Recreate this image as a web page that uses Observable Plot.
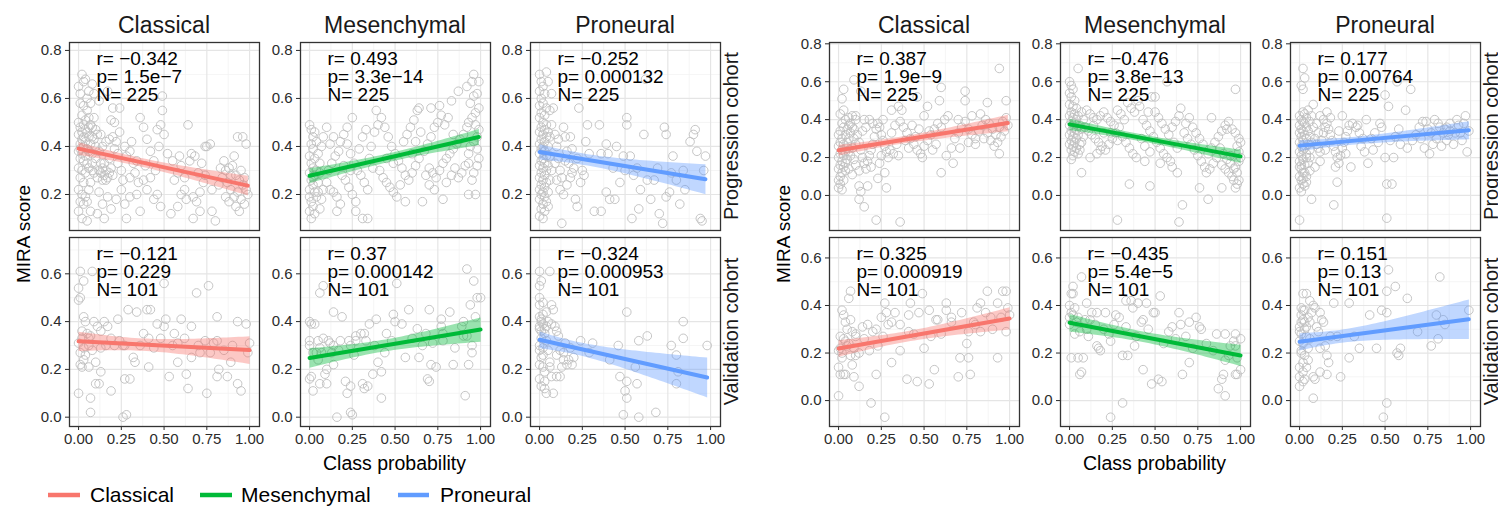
<!DOCTYPE html>
<html><head><meta charset="utf-8">
<script src="https://cdn.jsdelivr.net/npm/d3@7"></script>
<script src="https://cdn.jsdelivr.net/npm/@observablehq/plot@0.6"></script>
<style>
body{margin:0;background:#fff;}
#fig{position:relative;width:1498px;height:506px;overflow:hidden;background:#fff;font-family:"Liberation Sans",Arial,sans-serif;}
#fig svg{position:absolute;}
</style></head>
<body><div id="fig"></div>
<script>
// ---------- data (values in hundredths: x,y,x,y,...) ----------
const COLS = ["Classical","Mesenchymal","Proneural"];
const ROWS = ["Progression cohort","Validation cohort"];
const COLORS = ["#F8766D","#00BA38","#619CFF"];
const X_TICKS = [0,0.25,0.5,0.75,1];
const X_MINOR = [0.125,0.375,0.625,0.875];

const A_STATS = [
  [["r= −0.342","p= 1.5e−7","N= 225"],["r= 0.493","p= 3.3e−14","N= 225"],["r= −0.252","p= 0.000132","N= 225"]],
  [["r= −0.121","p= 0.229","N= 101"],["r= 0.37","p= 0.000142","N= 101"],["r= −0.324","p= 0.000953","N= 101"]]
];
const B_STATS = [
  [["r= 0.387","p= 1.9e−9","N= 225"],["r= −0.476","p= 3.8e−13","N= 225"],["r= 0.177","p= 0.00764","N= 225"]],
  [["r= 0.325","p= 0.000919","N= 101"],["r= −0.435","p= 5.4e−5","N= 101"],["r= 0.151","p= 0.13","N= 101"]]
];

const A_prog_clas = [0,65,1,62,2,70,3,67,4,68,1,58,3,57,5,55,2,53,0,50,1,48,3,49,4,47,2,46,5,46,6,48,7,49,8,48,0,45,2,43,4,42,6,44,1,41,3,40,5,39,7,41,9,43,0,38,2,37,4,36,6,38,8,37,1,35,3,34,5,33,0,31,2,30,4,29,6,31,8,30,1,27,3,25,0,22,2,20,4,19,1,17,3,16,5,17,0,13,2,10,5,9,7,13,6,22,7,25,9,29,8,33,10,35,10,40,11,45,9,52,7,58,6,63,8,66,5,60,9,62,4,51,6,52,3,44,1,39,10,47,8,44,
12,30,13,29,14,31,15,28,16,30,17,27,14,26,18,29,13,33,11,27,15,33,16,26,19,31,20,28,12,38,14,40,16,42,18,43,20,44,22,42,13,45,24,46,21,39,23,37,12,21,14,16,17,19,19,14,11,12,15,10,22,18,25,22,20,56,24,56,21,50,17,63,12,59,19,51,23,33,25,30,18,35,
27,40,28,36,30,38,32,33,34,34,36,52,38,48,40,43,42,38,44,34,46,47,48,49,49,61,49,55,50,45,47,40,45,30,42,27,38,26,35,25,33,29,30,27,28,10,27,16,30,19,34,20,36,13,40,22,44,18,46,20,48,15,26,26,31,42,39,32,
52,37,55,34,58,29,60,32,62,27,64,49,66,37,65,34,68,36,70,29,72,33,74,28,56,26,60,20,63,18,67,19,69,17,71,21,73,25,74,40,75,40,77,41,54,12,58,15,62,22,67,10,71,13,59,36,
78,13,80,9,78,22,82,24,84,27,86,30,88,31,90,32,92,28,94,26,96,24,98,22,87,25,89,22,91,19,93,21,95,18,97,16,99,20,86,19,88,17,92,15,94,13,85,34,91,36,93,44,96,44,98,41,83,31,95,30,97,27,89,28];

const A_prog_mes = [0,49,1,47,2,44,3,46,1,41,4,42,2,39,0,36,3,35,5,37,1,33,2,31,4,30,0,29,3,28,6,29,1,26,2,24,5,25,0,22,3,21,4,19,1,17,2,15,0,13,3,12,1,10,6,14,7,18,5,21,8,22,6,33,7,40,8,44,0,19,2,27,
10,25,12,22,14,21,16,19,11,30,13,33,15,36,17,38,18,42,20,45,22,41,24,37,26,33,28,30,30,28,32,25,34,22,19,28,21,26,23,23,25,20,27,17,16,13,27,13,31,10,34,10,29,39,31,44,33,47,22,48,25,52,12,41,14,44,10,48,20,32,24,30,35,35,18,16,
36,40,38,46,39,55,40,49,42,52,44,48,46,44,48,40,50,37,52,34,54,31,56,28,58,26,60,29,62,32,64,35,41,30,43,27,45,25,47,23,49,21,51,19,53,24,55,42,57,45,59,48,61,51,63,55,64,56,56,17,45,35,49,33,37,31,60,37,62,42,65,46,
66,17,68,28,70,31,72,29,74,27,76,30,78,33,80,35,82,37,84,39,86,41,88,43,90,45,67,38,69,41,71,44,73,48,75,50,77,53,79,49,81,52,83,59,87,63,71,56,76,57,78,18,80,25,83,28,85,31,87,27,89,29,91,32,70,24,73,22,84,45,
93,20,97,20,95,26,96,29,98,32,99,35,93,37,94,40,96,42,98,44,99,47,92,48,93,50,95,52,97,54,99,56,94,58,96,61,98,62,92,65,95,67,99,67,96,70,97,49,98,39,93,33];

const A_prog_pro = [0,70,1,67,2,65,0,63,3,62,1,60,2,58,0,57,4,56,1,54,3,53,0,52,2,50,4,49,1,48,3,47,0,46,5,46,2,45,4,44,1,43,3,42,0,41,2,40,5,40,1,39,3,38,0,37,4,36,2,35,1,34,3,33,0,32,5,32,2,31,4,30,1,29,3,28,0,27,2,26,4,25,1,24,3,23,0,22,2,21,5,21,1,20,3,19,0,18,4,17,2,16,1,14,3,13,0,11,2,10,6,36,6,44,7,30,6,26,5,15,7,49,6,55,7,62,5,67,4,71,
8,56,9,45,10,40,11,35,12,30,13,27,14,48,15,44,16,38,17,33,18,44,19,29,10,26,12,22,14,20,16,24,18,27,20,31,22,35,24,25,26,28,28,49,23,56,27,42,29,37,13,8,21,18,25,30,11,43,15,34,19,39,22,15,9,33,
32,13,36,13,35,49,39,41,40,37,36,37,41,18,44,18,39,21,45,40,49,36,50,30,51,52,51,49,53,36,55,28,57,31,54,10,47,25,43,31,59,22,58,14,
61,45,62,68,63,26,65,18,67,26,69,31,72,8,73,48,74,45,74,19,76,21,77,29,80,26,82,16,85,22,88,42,90,45,91,47,92,38,94,10,95,9,97,36,96,30,78,36,70,12,84,30];

const A_val_clas = [1,61,8,61,3,57,0,54,1,50,0,49,3,42,9,40,11,38,15,40,17,38,23,41,13,36,19,33,24,32,29,45,34,44,40,45,42,45,50,56,51,41,50,38,46,39,60,41,66,38,69,52,76,55,81,42,93,40,98,39,100,31,99,27,48,33,56,35,58,31,41,33,36,30,32,25,33,23,41,21,26,30,27,30,6,30,2,33,6,33,7,34,0,31,3,29,4,26,1,22,6,21,10,23,13,19,10,14,12,14,19,11,27,16,30,16,53,17,63,18,64,12,75,10,58,23,66,25,71,27,77,27,79,31,81,32,74,32,82,20,81,17,87,17,89,23,93,14,95,11,0,10,7,8,7,2,26,0,28,1,13,29,16,30,21,30,
2,36,4,40,5,35,1,27,3,24,8,28,2,21,55,30,70,30,85,28,62,33,44,29,38,35,90,30];

const A_val_mes = [8,55,6,52,51,56,92,62,96,57,94,47,98,50,100,50,14,44,19,42,35,39,39,41,30,35,32,35,27,34,23,32,18,32,11,32,8,33,0,40,1,39,3,39,0,32,0,30,2,27,4,27,7,27,12,31,13,27,17,28,24,30,26,26,1,17,0,16,2,11,6,14,9,18,10,14,10,20,14,22,21,15,22,10,31,14,32,12,34,13,37,18,40,23,42,19,42,8,45,35,49,43,54,39,50,40,48,32,56,25,58,45,64,25,70,45,68,35,72,31,71,22,74,21,69,16,70,15,77,41,77,38,78,35,78,32,85,29,84,22,89,38,91,9,93,22,95,27,90,40,90,34,92,34,95,30,24,13,16,0,24,2,25,1,5,32,6,29,14,30,27,32,33,32,38,30,
60,33,63,37,66,30,82,44,97,42,44,27,5,24];

const A_val_pro = [6,61,0,61,1,57,0,55,0,50,0,47,2,48,7,47,8,45,0,42,1,41,2,39,0,37,5,40,7,39,9,38,10,36,11,34,15,31,18,29,20,25,19,22,14,24,10,26,13,21,10,17,12,17,7,17,6,23,2,26,0,30,1,25,0,22,2,21,0,16,3,15,3,12,4,10,8,10,6,21,16,22,17,24,1,33,3,35,4,44,2,29,5,28,0,28,4,32,3,19,1,13,12,28,14,27,
24,32,31,31,29,27,41,24,46,30,51,44,58,32,63,34,56,21,47,17,51,15,50,11,51,8,49,1,58,0,68,2,57,14,77,30,80,26,81,19,80,14,84,40,84,33,98,30,
1,40,2,43,0,38,3,37,1,36,4,38];

const B_prog_clas = [0,4,1,6,2,3,0,8,1,10,3,8,2,12,0,14,1,16,3,15,4,13,2,18,0,20,1,22,3,21,5,19,4,17,2,24,0,26,1,28,3,27,5,25,6,23,2,30,0,32,1,34,4,32,6,30,3,36,5,35,7,33,2,38,4,40,6,41,8,42,1,43,3,45,7,38,8,36,9,35,9,30,10,27,8,25,7,21,9,19,10,16,6,14,8,11,5,28,4,23,6,37,10,40,10,42,2,51,3,56,9,61,13,55,12,5,13,2,12,-2,15,-6,
11,32,12,28,13,24,14,20,15,17,16,14,17,18,18,21,19,24,20,27,21,31,22,35,23,38,24,36,25,32,26,29,27,26,28,23,29,20,30,24,14,34,16,36,18,40,20,38,26,40,22,-13,17,5,23,9,27,12,28,4,31,33,33,37,32,22,34,27,12,13,19,15,24,17,15,40,25,21,35,21,
36,-14,35,47,37,45,31,45,36,39,38,36,40,33,42,30,44,27,46,24,48,22,50,26,52,29,54,32,56,35,58,38,60,36,62,40,64,42,46,52,50,42,52,47,59,50,60,57,45,31,41,25,43,37,49,20,55,24,57,27,63,21,60,12,53,34,47,35,39,29,
67,17,66,25,68,30,70,33,72,36,74,39,76,35,78,32,80,30,82,34,84,37,86,40,88,38,90,35,92,32,94,36,96,39,98,41,99,37,97,34,95,31,93,28,91,26,89,29,87,33,85,30,74,55,74,50,87,49,94,67,98,50,94,22,80,27,76,28,70,40,83,43,71,25,78,42];

const B_prog_mes = [0,60,1,58,2,56,0,54,1,52,3,50,0,48,2,47,4,46,1,44,3,43,0,42,5,42,2,41,4,40,1,39,3,38,0,37,6,37,2,36,4,35,1,34,3,33,0,32,5,32,2,31,4,30,1,29,3,28,0,27,6,27,2,26,4,25,1,24,3,23,5,22,2,21,1,19,5,67,7,35,8,31,7,28,6,24,8,40,7,44,
10,45,12,43,14,41,16,40,18,42,20,44,22,41,24,39,26,37,28,45,30,43,32,40,34,49,36,46,38,44,9,36,11,34,13,32,15,30,17,28,19,26,21,24,23,27,25,30,27,33,29,36,31,31,33,28,35,25,37,22,39,20,12,20,16,22,20,33,24,33,28,29,7,12,35,6,28,-13,18,24,14,37,
40,50,41,47,43,40,45,37,47,34,49,31,51,28,53,25,55,22,57,20,59,18,48,52,50,52,57,60,46,44,52,41,54,38,56,35,58,32,60,36,62,39,64,42,65,46,44,26,47,23,42,30,61,28,63,25,47,5,63,12,60,15,53,17,44,18,50,44,
66,-5,64,-14,67,33,69,30,71,27,73,24,75,21,77,18,79,15,81,22,83,25,85,28,87,31,89,34,91,37,93,39,95,35,97,33,99,30,68,38,70,41,72,36,76,4,81,-2,89,4,97,4,99,8,98,12,96,14,94,17,92,19,90,22,88,25,86,20,84,17,82,14,80,12,78,27,76,30,74,33,83,41,92,35,97,56,99,23,98,26,100,28,
95,10,97,15,99,18,96,8,93,12,100,20,98,6,91,14,89,16,94,21];

const B_prog_pro = [0,-13,1,2,0,4,2,6,1,8,3,5,0,10,2,12,4,10,1,14,3,16,0,18,2,19,5,17,1,21,4,22,0,23,2,24,6,24,3,25,1,26,5,27,0,28,2,29,4,30,1,31,6,31,3,32,0,33,2,34,5,34,1,35,4,36,0,37,3,38,2,39,6,39,1,40,4,41,0,42,3,43,2,44,5,45,1,16,4,20,0,15,3,12,2,9,4,7,2,56,1,58,2,67,3,62,7,-2,6,13,6,20,7,28,8,36,8,48,7,42,
9,30,10,27,11,25,12,23,13,29,14,33,15,36,16,38,17,35,18,32,19,29,20,26,21,23,22,20,23,17,24,21,25,25,26,28,27,31,28,34,29,37,10,38,12,42,14,40,18,41,21,15,22,7,20,-5,25,42,27,22,30,15,9,15,12,18,15,24,23,34,16,44,11,33,
31,38,33,36,34,37,35,33,37,30,38,23,40,17,42,30,44,33,46,28,48,36,50,53,50,20,51,6,51,-12,54,6,55,20,52,47,53,29,56,31,57,60,58,35,59,27,43,24,47,38,39,40,36,26,
62,45,63,25,65,56,66,29,68,32,70,36,72,39,73,25,74,39,75,35,77,33,78,27,79,40,80,30,82,36,84,33,85,35,86,29,88,38,90,27,91,33,93,37,95,29,97,42,98,23,99,34,87,32,83,26,76,22,71,30,
92,40,96,38,88,34,94,33,86,36,81,38];

const B_val_clas = [1,27,2,38,3,36,4,33,7,46,6,43,7,34,8,29,10,28,10,27,3,26,5,23,1,22,0,21,2,20,7,19,10,19,12,20,2,18,8,15,0,14,1,11,3,11,4,11,9,10,12,6,0,2,19,-1,27,-7,17,32,22,30,20,29,23,23,25,35,27,41,28,37,29,32,31,33,33,37,36,21,31,16,22,11,40,9,46,8,53,7,47,37,49,45,53,38,42,41,41,36,36,32,41,29,57,34,58,34,60,28,63,38,63,41,66,35,50,22,56,13,72,37,71,18,70,10,75,24,76,18,77,11,76,29,79,33,81,39,83,41,83,29,80,32,87,46,89,35,93,41,93,18,96,46,98,46,98,29,99,39,100,36,95,35,
5,30,4,25,6,24,9,22,15,26,18,21,14,31,26,27,44,28,54,27,66,33,86,37,90,30];

const B_val_mes = [7,52,2,48,1,45,2,45,0,40,3,39,10,41,1,37,0,32,3,28,1,18,5,18,8,18,6,11,7,12,13,37,16,37,21,37,15,32,10,30,11,27,16,23,18,21,17,22,24,25,27,36,26,32,33,42,36,42,40,41,37,39,33,31,31,19,34,19,31,-1,24,-7,39,27,43,34,42,33,43,13,45,41,48,7,49,37,50,37,52,9,53,44,54,8,58,29,64,37,65,32,70,33,70,16,66,11,74,35,77,30,76,31,86,28,91,28,97,28,96,25,100,26,97,23,90,11,89,9,91,2,87,5,97,11,98,11,100,13,98,18,93,19,91,17,
5,35,4,33,2,36,0,35,6,29,9,34,12,34,20,30,23,28,29,35,46,30,55,24,60,31,62,26,68,27,72,22,80,24,84,21,94,23,38,23];

const B_val_pro = [2,45,4,45,1,39,3,38,5,35,2,34,6,33,0,31,3,30,1,28,4,27,0,25,2,24,5,22,1,21,3,19,2,16,0,14,4,14,2,12,0,10,3,9,0,6,8,1,8,40,9,39,7,37,12,37,13,34,12,22,15,23,12,12,16,11,9,9,8,10,16,19,18,27,20,41,24,10,29,41,29,18,32,27,41,36,45,22,48,38,51,37,51,46,51,-1,49,-7,52,55,56,48,59,22,58,19,63,43,69,29,77,23,80,36,81,26,82,52,84,34,85,32,99,38,
1,36,3,33,0,29,6,26,1,20,5,17,2,8,6,42,10,31,11,29,14,33,17,16,22,27,35,22,57,20,2,38,4,31,1,33];

// ---------- layout (style) ----------
const CHARTS = [
  {cols:[69,300,530], stats:A_STATS, data:[[A_prog_clas,A_prog_mes,A_prog_pro],[A_val_clas,A_val_mes,A_val_pro]],
   ydom:[[0.05,0.833],[-0.039,0.752]], yt:[[0.2,0.4,0.6,0.8],[0,0.2,0.4,0.6]], ymin:[[0.1,0.3,0.5,0.7],[0.1,0.3,0.5,0.7]],
   strip:731, ytitle:23, xtitle:394.5},
  {cols:[829,1060,1290], stats:B_STATS, data:[[B_prog_clas,B_prog_mes,B_prog_pro],[B_val_clas,B_val_mes,B_val_pro]],
   ydom:[[-0.185,0.807],[-0.109,0.686]], yt:[[0,0.2,0.4,0.6,0.8],[0,0.2,0.4,0.6]], ymin:[[-0.1,0.1,0.3,0.5,0.7],[-0.1,0.1,0.3,0.5]],
   strip:1491, ytitle:783, xtitle:1154.5}
];
const PW = 190, ROW_TOP = [42,237], ROW_H = [188,189];
const XDOM = [-0.053,1.058];
const FONT = "Liberation Sans, Arial, sans-serif";
const fig = document.getElementById("fig");

function toPts(arr){ const o=[]; for(let i=0;i<arr.length;i+=2) o.push({x:arr[i]/100,y:arr[i+1]/100}); return o; }

CHARTS.forEach(ch => {
  for (let r=0;r<2;r++) for (let c=0;c<3;c++) {
    const pts = toPts(ch.data[r][c]);
    const showX = r===1;
    const mL=40, mB=showX?30:0;
    const svg = Plot.plot({
      width: PW+mL, height: ROW_H[r]+mB,
      marginLeft:mL, marginRight:0, marginTop:0, marginBottom:mB,
      style:{fontFamily:FONT, fontSize:"15px", color:"#2b2b2b", background:"transparent", overflow:"visible"},
      x:{domain:XDOM, ticks:X_TICKS, tickFormat:d3.format(".2f"), tickSize:4, tickPadding:3, label:null, axis: showX ? "bottom" : null},
      y:{domain:ch.ydom[r], ticks:ch.yt[r], tickFormat:d3.format(".1f"), tickSize:4, tickPadding:4, label:null},
      marks:[
        Plot.gridX(X_MINOR,{stroke:"#f0f0f0",strokeOpacity:1,strokeWidth:0.7}),
        Plot.gridY(ch.ymin[r],{stroke:"#f0f0f0",strokeOpacity:1,strokeWidth:0.7}),
        Plot.gridX(X_TICKS,{stroke:"#e5e5e5",strokeOpacity:1,strokeWidth:1.2}),
        Plot.gridY(ch.yt[r],{stroke:"#e5e5e5",strokeOpacity:1,strokeWidth:1.2}),
        Plot.dot(pts,{x:"x",y:"y",r:4.3,stroke:"#bebebe",strokeWidth:0.9,fill:"none"}),
        Plot.linearRegressionY(pts,{x:"x",y:"y",stroke:COLORS[c],strokeWidth:4,fill:COLORS[c],fillOpacity:0.4,ci:0.95}),
        Plot.text([ch.stats[r][c].join("\n")],{text:d=>d,frameAnchor:"top-left",dx:27,dy:9.5,fontSize:19,lineHeight:0.96,fill:"#000",textAnchor:"start"}),
        Plot.frame({stroke:"#333",strokeWidth:1.3})
      ]
    });
    svg.style.left = (ch.cols[c]-mL)+"px";
    svg.style.top = ROW_TOP[r]+"px";
    fig.appendChild(svg);
  }
});

// ---------- titles, strips, axis titles, legend ----------
const ov = d3.select(fig).append("svg").attr("width",1498).attr("height",506)
  .style("left","0px").style("top","0px").style("pointer-events","none")
  .attr("font-family",FONT);
CHARTS.forEach(ch => {
  ch.cols.forEach((l,i)=> ov.append("text").attr("x",l+PW/2).attr("y",33).attr("text-anchor","middle")
     .attr("font-size",23).attr("fill","#1a1a1a").text(COLS[i]));
  ROWS.forEach((lab,r)=> {
    const cy = ROW_TOP[r]+ROW_H[r]/2;
    ov.append("text").attr("transform",`translate(${ch.strip},${cy}) rotate(-90)`).attr("text-anchor","middle")
      .attr("dominant-baseline","central").attr("font-size",20).attr("fill","#1a1a1a").text(lab);
  });
  ov.append("text").attr("transform",`translate(${ch.ytitle},234) rotate(-90)`).attr("text-anchor","middle")
    .attr("dominant-baseline","central").attr("font-size",19).attr("fill","#000").text("MIRA score");
  ov.append("text").attr("x",ch.xtitle).attr("y",470).attr("text-anchor","middle")
    .attr("font-size",19.5).attr("fill","#000").text("Class probability");
});
const LEG = [{x0:48,x1:80,tx:90},{x0:200,x1:232,tx:241},{x0:398,x1:429,tx:440}];
LEG.forEach((g,i)=>{
  ov.append("line").attr("x1",g.x0).attr("x2",g.x1).attr("y1",495).attr("y2",495)
    .attr("stroke",COLORS[i]).attr("stroke-width",4.5);
  ov.append("text").attr("x",g.tx).attr("y",502).attr("font-size",21).attr("fill","#000").text(COLS[i]);
});
</script>
</body></html>
